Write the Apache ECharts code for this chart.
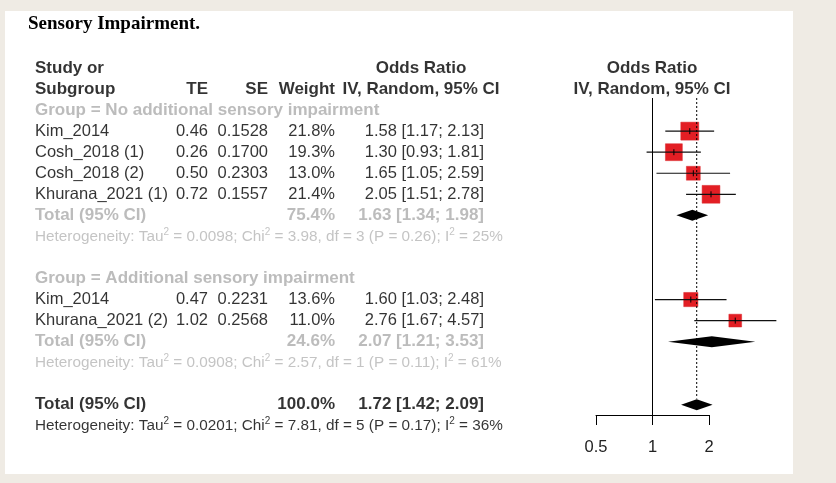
<!DOCTYPE html>
<html>
<head>
<meta charset="utf-8">
<script src="https://cdn.jsdelivr.net/npm/echarts@6/dist/echarts.min.js"></script>
<style>
  html, body { margin: 0; padding: 0; background: #efebe4; }
  #chart { width: 836px; height: 483px; }
</style>
</head>
<body>
<div id="chart"></div>
<script>
// study level data
const studies = ['Kim_2014', 'Cosh_2018 (1)', 'Cosh_2018 (2)', 'Khurana_2021 (1)', 'Kim_2014', 'Khurana_2021 (2)']
const te = [0.46, 0.26, 0.50, 0.72, 0.47, 1.02]
const se = [0.1528, 0.1700, 0.2303, 0.1557, 0.2231, 0.2568]
const weight = [21.8, 19.3, 13.0, 21.4, 13.6, 11.0]
const oddsRatio = [1.58, 1.30, 1.65, 2.05, 1.60, 2.76]
const ciLow = [1.17, 0.93, 1.05, 1.51, 1.03, 1.67]
const ciHigh = [2.13, 1.81, 2.59, 2.78, 2.48, 4.57]
const studyRow = [3, 4, 5, 6, 11, 12]

// subgroup + overall summaries
const groupNames = ['Group = No additional sensory impairment', 'Group = Additional sensory impairment']
const groupHeaderRow = [2, 10]
const sumLabel = ['Total (95% CI)', 'Total (95% CI)', 'Total (95% CI)']
const sumRow = [7, 13, 16]
const sumWeight = [75.4, 24.6, 100.0]
const sumOR = [1.63, 2.07, 1.72]
const sumLow = [1.34, 1.21, 1.42]
const sumHigh = [1.98, 3.53, 2.09]
const hetRow = [8, 14, 17]
const hetTau2 = ['0.0098', '0.0908', '0.0201']
const hetChi2 = [3.98, 2.57, 7.81]
const hetDf = [3, 1, 5]
const hetP = ['0.26', '0.11', '0.17']
const hetI2 = [25, 61, 36]

const xTicks = [0.5, 1, 2]

// layout
const ROW0 = 68, ROW_H = 21.05
const AXIS_ROW = (415 - ROW0) / ROW_H
const LINE_TOP = (98 - ROW0) / ROW_H
const FONT = 'Liberation Sans, Arial, sans-serif'
const GRAY = '#ababab'
const HET_GRAY = '#b5b5b5'
const col = { study: 35, te: 208, se: 268, weight: 335, or: 484, orHead: 421 }

const chart = echarts.init(document.getElementById('chart'))

function txt(x, row, text, opts) {
  opts = opts || {}
  const c = opts.color || '#000'
  return {
    value: [x, row],
    label: {
      show: true,
      position: 'inside',
      formatter: text,
      align: opts.align || 'left',
      verticalAlign: 'middle',
      fontSize: opts.size || (opts.bold ? 17 : 16.5),
      fontWeight: opts.bold ? 'bold' : 'normal',
      color: c,
      fontFamily: FONT,
      rich: {
        n: { fontSize: opts.size || 16.5, color: c, fontFamily: FONT },
        s: { fontSize: 10, color: c, fontFamily: FONT, padding: [0, 0, 9, 0] }
      }
    }
  }
}

const fmtCI = (o, l, h) => `${o.toFixed(2)} [${l.toFixed(2)}; ${h.toFixed(2)}]`

let table = []
// headers
table.push(txt(col.study, 0, 'Study or', { bold: true }))
table.push(txt(col.study, 1, 'Subgroup', { bold: true }))
table.push(txt(col.te, 1, 'TE', { bold: true, align: 'right' }))
table.push(txt(col.se, 1, 'SE', { bold: true, align: 'right' }))
table.push(txt(col.weight, 1, 'Weight', { bold: true, align: 'right' }))
table.push(txt(col.orHead, 0, 'Odds Ratio', { bold: true, align: 'center' }))
table.push(txt(col.orHead, 1, 'IV, Random, 95% CI', { bold: true, align: 'center' }))
table.push(txt(652, 0, 'Odds Ratio', { bold: true, align: 'center' }))
table.push(txt(652, 1, 'IV, Random, 95% CI', { bold: true, align: 'center' }))

groupNames.forEach((g, i) => table.push(txt(col.study, groupHeaderRow[i], g, { bold: true, color: GRAY })))

studies.forEach((s, i) => {
  const r = studyRow[i]
  table.push(txt(col.study, r, s))
  table.push(txt(col.te, r, te[i].toFixed(2), { align: 'right' }))
  table.push(txt(col.se, r, se[i].toFixed(4), { align: 'right' }))
  table.push(txt(col.weight, r, weight[i].toFixed(1) + '%', { align: 'right' }))
  table.push(txt(col.or, r, fmtCI(oddsRatio[i], ciLow[i], ciHigh[i]), { align: 'right' }))
})

sumRow.forEach((r, i) => {
  const c = i < 2 ? GRAY : '#000'
  table.push(txt(col.study, r, sumLabel[i], { bold: true, color: c }))
  table.push(txt(col.weight, r, sumWeight[i].toFixed(1) + '%', { bold: true, color: c, align: 'right' }))
  table.push(txt(col.or, r, fmtCI(sumOR[i], sumLow[i], sumHigh[i]), { bold: true, color: c, align: 'right' }))
})

hetRow.forEach((r, i) => {
  const c = i < 2 ? HET_GRAY : '#000'
  const s = `{n|Heterogeneity: Tau}{s|2}{n| = ${hetTau2[i]}; Chi}{s|2}{n| = ${hetChi2[i].toFixed(2)}, df = ${hetDf[i]} (P = ${hetP[i]}); I}{s|2}{n| = ${hetI2[i]}%}`
  table.push(txt(col.study, r, s, { size: 15.3, color: c }))
})

const studyData = studies.map((s, i) => [oddsRatio[i], ciLow[i], ciHigh[i], studyRow[i], weight[i]])
const diamondData = sumRow.map((r, i) => [sumOR[i], sumLow[i], sumHigh[i], r])

function renderStudy(params, api) {
  const p = api.coord([api.value(0), api.value(3)])
  const lo = api.coord([api.value(1), api.value(3)])
  const hi = api.coord([api.value(2), api.value(3)])
  const size = 3.85 * Math.sqrt(api.value(4))
  return {
    type: 'group',
    children: [
      { type: 'rect', shape: { x: p[0] - size / 2, y: p[1] - size / 2, width: size, height: size },
        style: { fill: '#e31e24', stroke: '#d8262a', lineWidth: 0.5 } },
      { type: 'line', shape: { x1: lo[0], y1: p[1], x2: hi[0], y2: p[1] }, style: { stroke: '#111', lineWidth: 1.2 } },
      { type: 'line', shape: { x1: p[0], y1: p[1] - 3, x2: p[0], y2: p[1] + 3 }, style: { stroke: '#000', lineWidth: 1 } }
    ]
  }
}

function renderDiamond(params, api) {
  const p = api.coord([api.value(0), api.value(3)])
  const lo = api.coord([api.value(1), api.value(3)])
  const hi = api.coord([api.value(2), api.value(3)])
  const h = 5.5
  return {
    type: 'polygon',
    shape: { points: [[lo[0], p[1]], [p[0], p[1] - h], [hi[0], p[1]], [p[0], p[1] + h]] },
    style: { fill: '#000' }
  }
}

const option = {
  backgroundColor: '#efebe4',
  animation: false,
  graphic: [
    { type: 'rect', z: -10, shape: { x: 5, y: 11, width: 788, height: 463 }, style: { fill: '#fff' } }
  ],
  title: {
    text: 'Sensory Impairment.',
    left: 28, top: 15, padding: 0,
    textStyle: { fontFamily: 'Liberation Serif, Times New Roman, serif', fontWeight: 'bold', fontSize: 19, color: '#000' }
  },
  grid: [
    { left: 0, right: 0, top: ROW0 - ROW_H, height: 19 * ROW_H },
    { left: 596, width: 113, top: ROW0 - ROW_H, height: (AXIS_ROW + 1) * ROW_H }
  ],
  xAxis: [
    { gridIndex: 0, type: 'value', min: 0, max: 836, show: false },
    {
      gridIndex: 1, type: 'log', logBase: 2, min: xTicks[0], max: xTicks[xTicks.length - 1], interval: 1,
      position: 'bottom',
      axisLine: { show: true, onZero: false, lineStyle: { color: '#000', width: 1 } },
      axisTick: { show: true, length: 10, lineStyle: { color: '#000' } },
      axisLabel: { fontSize: 16.5, color: '#222', fontFamily: FONT, margin: 24, formatter: v => String(v) },
      splitLine: { show: false },
      minorTick: { show: false }
    }
  ],
  yAxis: [
    { gridIndex: 0, type: 'value', min: -1, max: 18, inverse: true, show: false },
    { gridIndex: 1, type: 'value', min: -1, max: AXIS_ROW, inverse: true, show: false }
  ],
  series: [
    {
      type: 'scatter', xAxisIndex: 0, yAxisIndex: 0, symbolSize: 1,
      itemStyle: { color: 'rgba(0,0,0,0)' }, clip: false, silent: true,
      data: table
    },
    {
      type: 'line', xAxisIndex: 1, yAxisIndex: 1, symbol: 'none', silent: true,
      lineStyle: { color: '#000', width: 1 },
      data: [[1, LINE_TOP], [1, AXIS_ROW]]
    },
    {
      type: 'line', xAxisIndex: 1, yAxisIndex: 1, symbol: 'none', silent: true,
      lineStyle: { color: '#000', width: 1, type: [2, 2] },
      data: [[sumOR[2], LINE_TOP], [sumOR[2], sumRow[2] - 0.3]]
    },
    {
      type: 'custom', xAxisIndex: 1, yAxisIndex: 1, clip: false, silent: true,
      renderItem: renderStudy, encode: { x: [0, 1, 2], y: 3 },
      data: studyData
    },
    {
      type: 'custom', xAxisIndex: 1, yAxisIndex: 1, clip: false, silent: true,
      renderItem: renderDiamond, encode: { x: [0, 1, 2], y: 3 },
      data: diamondData
    }
  ]
}

chart.setOption(option)
</script>
</body>
</html>
